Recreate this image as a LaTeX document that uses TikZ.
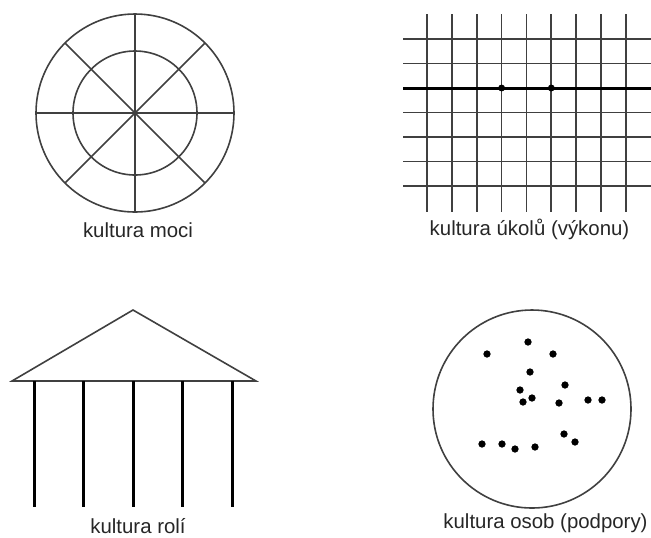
\documentclass[tikz,border=0pt]{standalone}
\usepackage{fontspec}
\setmainfont{Liberation Sans}

\tikzset{
  thinline/.style={line width=0.8pt, draw=black!75},
  heavyline/.style={line width=1.6pt, draw=black},
  caption/.style={font=\fontsize{10.2}{12}\selectfont, text=black!85, inner sep=0pt}
}

\begin{document}
\begin{tikzpicture}[x=0.5pt, y=-0.5pt]
    \useasboundingbox (0,0) rectangle (651,537);

    % power culture: wheel
    \coordinate (hub) at (135,113);
    \draw[thinline] (hub) circle[radius=49.5pt];
    \draw[thinline] (hub) circle[radius=31pt];
    \foreach \a in {0,45,...,315}
        \draw[thinline] (hub) -- ++(\a:49.5pt);
    \node[caption] (moci) at (138,230) {kultura moci};

    % task culture: net
    \foreach \i in {0,...,8}
        \draw[thinline] (427+24.85*\i,14) -- (427+24.85*\i,212);
    \foreach \j in {0,1,3,4,5,6}
        \draw[thinline] (403,39+24.5*\j) -- (651,39+24.5*\j);
    \draw[heavyline, line width=1.5pt] (403,88) -- (651,88);
    \filldraw (501.6,88) circle (1.5pt);
    \filldraw (551.3,88) circle (1.5pt);
    \node[caption] (ukolu) at (529.5,229) {kultura úkolů (výkonu)};

    % role culture: temple
    \draw[thinline] (12,381) -- (133,310) -- (256,381) -- cycle;
    \foreach \i in {0,...,4}
        \draw[heavyline] (34.3+49.5*\i,381) -- (34.3+49.5*\i,507);
    \node[caption] (roli) at (138,526) {kultura rolí};

    % person culture: cluster
    \draw[thinline] (532,409) circle[radius=49.5pt];
    \foreach \p in {(487,354),(528,342),(553,354),(530,372),(565,385),
                    (520,390),(532,398),(523,402),(559,403),(588,400),
                    (602,400),(564,434),(575,442),(482,444),(502,444),
                    (515,449),(535,447)}
        \filldraw \p circle (1.6pt);
    \node[caption] (osob) at (545.5,523) {kultura osob (podpory)};
\end{tikzpicture}
\end{document}
